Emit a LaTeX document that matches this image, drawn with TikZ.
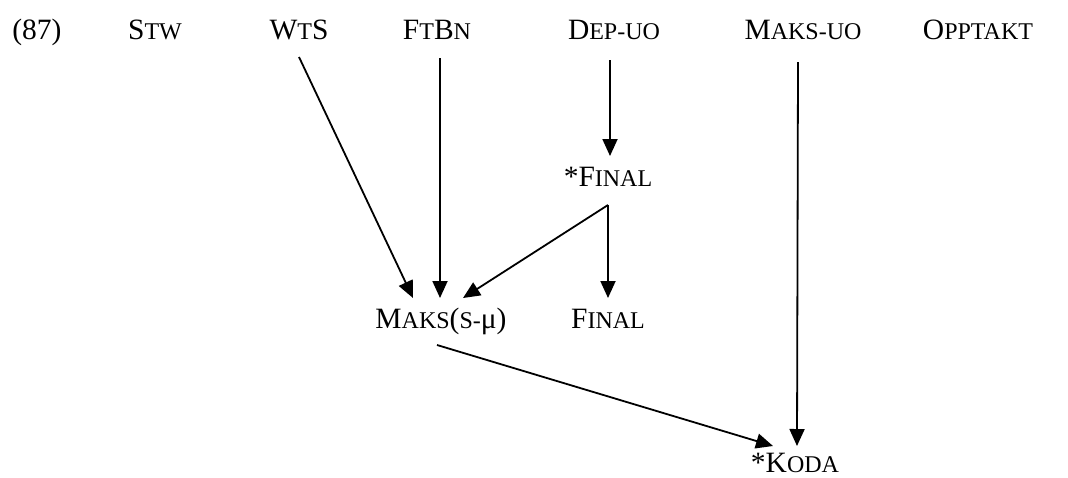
\documentclass[tikz,border=0pt]{standalone}
\usepackage{fontspec}
\setmainfont{Liberation Serif}
\usetikzlibrary{arrows.meta}
\newcommand\smc[1]{{\fontsize{24}{26}\selectfont #1}}
\tikzset{
  lbl/.style={inner sep=0pt, anchor=base, font=\fontsize{29.5}{32}\selectfont},
  arr/.style={line width=1.8pt, -{Triangle[width=15pt,length=17pt]}},
}
\begin{document}
\begin{tikzpicture}[x=1pt,y=-1pt]
\useasboundingbox (0,0) rectangle (1068,477);
% top row
\node[lbl] (num)  at (37,39)  {(87)};
\node[lbl] (stw)  at (155,39) {S\smc{TW}};
\node[lbl] (wts)  at (299,39) {W\smc{T}S};
\node[lbl] (ftbn) at (437,39) {F\smc{T}B\smc{N}};
\node[lbl] (dep)  at (614,39) {D\smc{EP-UO}};
\node[lbl] (maksuo) at (803,39) {M\smc{AKS-UO}};
\node[lbl] (opp)  at (978,39) {O\smc{PPTAKT}};
% middle
\node[lbl] (sfin) at (608,186) {*F\smc{INAL}};
\node[lbl] (maks) at (441,328) {M\smc{AKS}(\smc{S-}μ)};
\node[lbl] (fin)  at (608,328) {F\smc{INAL}};
\node[lbl] (koda) at (795,472) {*K\smc{ODA}};
% connector end points
\coordinate (wtsS)  at (299,57);
\coordinate (maksA) at (413,298);
\coordinate (ftbnS) at (440,58);
\coordinate (maksB) at (440,298);
\coordinate (depS)  at (610,60);
\coordinate (sfinN) at (610,156);
\coordinate (sfinS) at (608,205);
\coordinate (maksC) at (463,298);
\coordinate (finN)  at (608,298);
\coordinate (maksS) at (437,345);
\coordinate (kodaA) at (773,446);
\coordinate (maksuoS) at (798,62);
\coordinate (kodaB) at (797,446);
% connectors
\draw[arr] (wtsS) -- (maksA);
\draw[arr] (ftbnS) -- (maksB);
\draw[arr] (depS) -- (sfinN);
\draw[arr] (sfinS) -- (maksC);
\draw[arr] (sfinS) -- (finN);
\draw[arr] (maksS) -- (kodaA);
\draw[arr] (maksuoS) -- (kodaB);
\end{tikzpicture}
\end{document}
